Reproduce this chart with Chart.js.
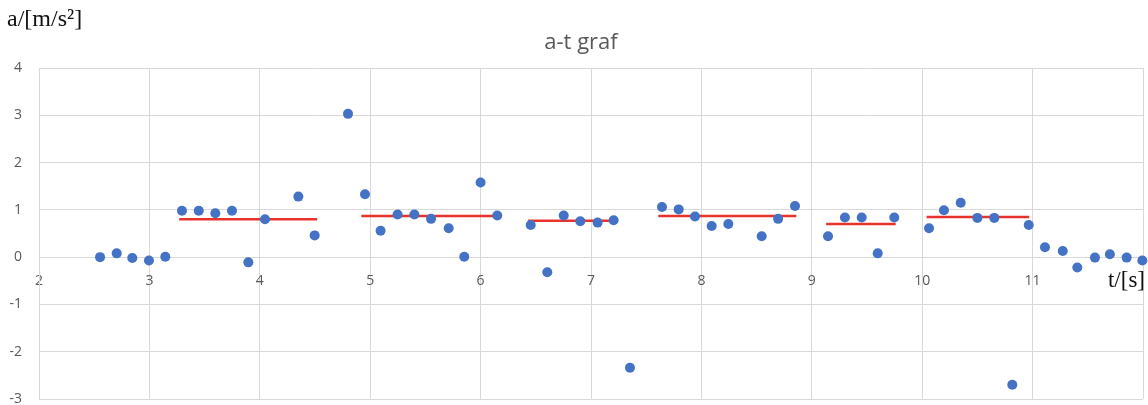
<!DOCTYPE html>
<html>
<head>
<meta charset="utf-8">
<script src="https://cdn.jsdelivr.net/npm/chart.js@4/dist/chart.umd.min.js"></script>
<style>
  html, body { margin: 0; padding: 0; background: #ffffff; }
  #wrap { width: 1148px; height: 405px; }
</style>
</head>
<body>
<div id="wrap"><canvas id="c" width="1148" height="405"></canvas></div>
<script>
// ---- data ----
const tValues = [2.553, 2.704, 2.845, 2.996, 3.144, 3.295, 3.447, 3.597, 3.748, 3.896,
  4.047, 4.349, 4.497, 4.799, 4.953, 5.094, 5.248, 5.40, 5.551, 5.711,
  5.852, 6.0, 6.151, 6.454, 6.604, 6.753, 6.903, 7.06, 7.205, 7.353,
  7.643, 7.794, 7.942, 8.093, 8.244, 8.546, 8.695, 8.848, 9.147, 9.30,
  9.452, 9.597, 9.747, 10.062, 10.197, 10.349, 10.50, 10.653, 10.816, 10.965,
  11.112, 11.273, 11.405, 11.565, 11.70, 11.852, 11.994];
const aValues = [0.00, 0.08, -0.02, -0.07, 0.01, 0.98, 0.98, 0.93, 0.98, -0.11,
  0.80, 1.28, 0.46, 3.03, 1.33, 0.56, 0.90, 0.90, 0.81, 0.61,
  0.01, 1.58, 0.88, 0.68, -0.32, 0.88, 0.76, 0.73, 0.78, -2.34,
  1.06, 1.01, 0.86, 0.66, 0.70, 0.44, 0.81, 1.08, 0.44, 0.84,
  0.84, 0.08, 0.84, 0.61, 0.99, 1.15, 0.83, 0.83, -2.70, 0.68,
  0.21, 0.13, -0.22, -0.01, 0.06, -0.01, -0.07];
const segStart = [3.27, 4.92, 6.43, 7.61, 9.13, 10.04];
const segEnd   = [4.52, 6.13, 7.20, 8.86, 9.76, 10.97];
const segMean  = [0.80, 0.87, 0.77, 0.87, 0.70, 0.85];
const xTickLabels = ['2', '3', '4', '5', '6', '7', '8', '9', '10', '11'];
const yTickLabels = ['-3', '-2', '-1', '0', '1', '2', '3', '4'];
const chartTitle = 'a-t graf';
const yAxisLabel = 'a/[m/s\u00B2]';
const xAxisLabel = 't/[s]';

// ---- build datasets ----
const scatterData = tValues.map((t, i) => ({ x: t, y: aValues[i] }));
const meanData = [];
segStart.forEach((s, i) => {
  meanData.push({ x: s, y: segMean[i] });
  meanData.push({ x: segEnd[i], y: segMean[i] });
  if (i < segStart.length - 1) meanData.push({ x: (segEnd[i] + segStart[i + 1]) / 2, y: null });
});

const GRID = '#d9d9d9';
const TICK = '#595959';

const textPlugin = {
  id: 'axisTexts',
  afterDraw(chart) {
    const ctx = chart.ctx;
    ctx.save();
    ctx.fillStyle = '#595959';
    ctx.font = '22px "Open Sans"';
    ctx.textAlign = 'center';
    ctx.textBaseline = 'middle';
    ctx.fillText(chartTitle, 581, 43);
    ctx.fillStyle = '#111111';
    ctx.font = '24px "Liberation Serif"';
    ctx.textAlign = 'left';
    ctx.fillText(yAxisLabel, 7, 20);
    ctx.font = '23px "Liberation Serif"';
    ctx.textAlign = 'right';
    ctx.fillText(xAxisLabel, 1145, 281);
    ctx.restore();
  }
};

function zeroPad(scale) {
  scale.paddingLeft = 0;
  scale.paddingRight = 0;
  scale.paddingTop = 0;
  scale.paddingBottom = 0;
}

new Chart(document.getElementById('c'), {
  type: 'scatter',
  data: {
    datasets: [
      {
        label: 'a',
        data: scatterData,
        backgroundColor: '#4472C4',
        borderWidth: 0,
        pointRadius: 5,
        pointHoverRadius: 5,
        clip: false,
        order: 0
      },
      {
        label: 'mean',
        type: 'line',
        data: meanData,
        borderColor: '#E8332C',
        borderWidth: 2.5,
        pointRadius: 0,
        spanGaps: false,
        fill: false,
        order: 1
      }
    ]
  },
  options: {
    responsive: false,
    devicePixelRatio: 1,
    animation: false,
    layout: { padding: { left: 0, right: 5, top: 68, bottom: 6 } },
    plugins: {
      legend: { display: false },
      title: { display: false },
      tooltip: { enabled: false }
    },
    scales: {
      x: {
        type: 'linear',
        min: 2,
        max: 12,
        position: { y: 0 },
        afterBuildTicks(scale) {
          scale.ticks = [];
          for (let v = 2; v <= 12; v++) scale.ticks.push({ value: v });
        },
        afterFit(scale) { scale.height = 0; zeroPad(scale); },
        grid: { color: GRID, lineWidth: 1, drawTicks: false },
        border: { color: GRID },
        ticks: {
          color: TICK,
          font: { family: '"Open Sans"', size: 14 },
          padding: 15,
          maxRotation: 0,
          autoSkip: false,
          callback: (v) => {
            const i = Math.round(v) - 2;
            return i >= 0 && i < xTickLabels.length ? xTickLabels[i] : '';
          }
        }
      },
      y: {
        type: 'linear',
        min: -3,
        max: 4,
        afterFit(scale) { scale.width = 39; zeroPad(scale); },
        afterBuildTicks(scale) {
          scale.ticks = [];
          for (let v = -3; v <= 4; v++) scale.ticks.push({ value: v });
        },
        grid: { color: GRID, lineWidth: 1, drawTicks: false },
        border: { color: GRID },
        ticks: {
          color: TICK,
          font: { family: '"Open Sans"', size: 14 },
          padding: 17,
          callback: (v) => yTickLabels[Math.round(v) + 3]
        }
      }
    }
  },
  plugins: [textPlugin]
});
</script>
</body>
</html>
